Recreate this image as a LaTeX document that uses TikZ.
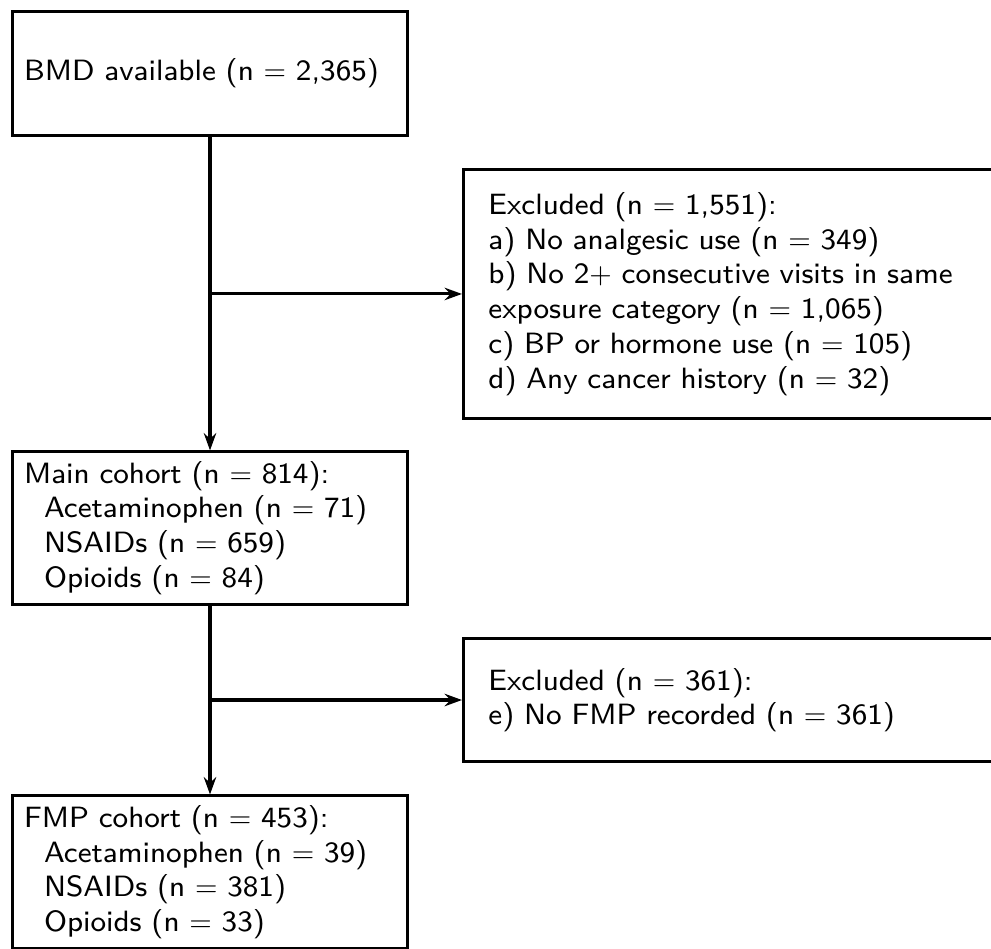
\documentclass[tikz,border=0pt]{standalone}
\usepackage{fontspec}
\usetikzlibrary{arrows.meta,positioning,calc}
\newfontfamily\BoxSans[Extension=.otf]{lmsans8-regular}
\definecolor{Ink}{HTML}{000000}
\newcommand{\SubLine}{\hspace*{6.9pt}}
\tikzset{
  cohort/.style={draw=Ink,line width=1.05pt,font=\BoxSans\fontsize{10.15}{12}\selectfont,align=left,
    inner xsep=4.15pt,inner ysep=0pt,text width=128.6pt,minimum width=136.9pt},
  exclbox/.style={draw=Ink,line width=1.05pt,font=\BoxSans\fontsize{10.15}{12}\selectfont,align=left,
    inner xsep=8.6pt,inner ysep=0pt,text width=168.8pt,minimum width=186pt},
  flow/.style={draw=Ink,line width=1.05pt,-{Stealth[length=6pt,width=4.3pt,inset=2pt]}}
}

\begin{document}
\begin{tikzpicture}[x=0.3458pt,y=-0.3458pt]
\useasboundingbox (0,0) rectangle (991,948);
% cohort boxes
\node[cohort,minimum height=43.2pt] (bmd) at (210,73.5) {BMD available (n $=$ 2,365)};
\node[cohort,minimum height=52.6pt] (main) at (210,528) {Main cohort (n $=$ 814):\\
  \SubLine Acetaminophen (n $=$ 71)\\ \SubLine NSAIDs (n $=$ 659)\\ \SubLine Opioids (n $=$ 84)};
\node[cohort,minimum height=52.6pt] (fmp) at (210,872) {FMP cohort (n $=$ 453):\\
  \SubLine Acetaminophen (n $=$ 39)\\ \SubLine NSAIDs (n $=$ 381)\\ \SubLine Opioids (n $=$ 33)};
% exclusion boxes
\coordinate (forkA) at ($(bmd.south)!0.5!(main.north)$);
\coordinate (forkB) at ($(main.south)!0.5!(fmp.north)$);
\node[exclbox,minimum height=86.1pt,anchor=west] (exclA) at (forkA -| 462,0) {Excluded (n $=$ 1,551):\\
  a) No analgesic use (n $=$ 349)\\ b) No 2$+$ consecutive visits in same\\ exposure category (n $=$ 1,065)\\
  c) BP or hormone use (n $=$ 105)\\ d) Any cancer history (n $=$ 32)};
\node[exclbox,minimum height=42.5pt,anchor=west] (exclB) at (forkB -| 462,0) {Excluded (n $=$ 361):\\
  e) No FMP recorded (n $=$ 361)};
% connectors
\draw[flow] (bmd.south) -- (main.north);
\draw[flow] (main.south) -- (fmp.north);
\draw[flow] (forkA) -- (exclA.west);
\draw[flow] (forkB) -- (exclB.west);
\end{tikzpicture}
\end{document}
